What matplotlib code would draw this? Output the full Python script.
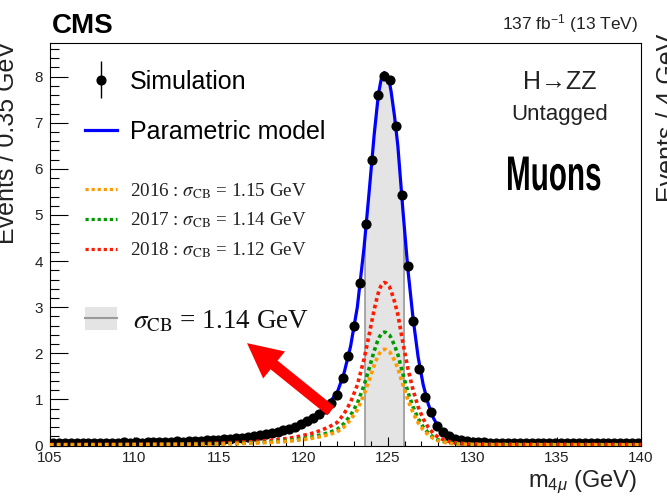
import numpy as np
import matplotlib
matplotlib.use("Agg")
import matplotlib.pyplot as plt
from matplotlib.patches import Patch, Rectangle, ArrowStyle
from matplotlib.lines import Line2D
from matplotlib.legend_handler import HandlerErrorbar, HandlerTuple
from matplotlib.patheffects import AbstractPathEffect
from matplotlib.transforms import Affine2D
from matplotlib.ticker import MultipleLocator
from matplotlib.container import ErrorbarContainer

plt.rcParams["font.family"] = ["Liberation Sans", "DejaVu Sans"]
plt.rcParams["mathtext.fontset"] = "custom"
plt.rcParams["mathtext.rm"] = "Liberation Sans"
plt.rcParams["mathtext.it"] = "Liberation Sans:italic"

# binning of the simulated four-muon mass
m_lo, m_hi, n_bins = 105.0, 140.0, 100

# simulated events per 0.35 GeV bin
sim_events = [
    0.05, 0.05, 0.06, 0.05, 0.05, 0.06, 0.05, 0.06, 0.06, 0.05,
    0.06, 0.06, 0.07, 0.06, 0.07, 0.06, 0.07, 0.07, 0.08, 0.07,
    0.08, 0.09, 0.08, 0.09, 0.10, 0.10, 0.11, 0.12, 0.12, 0.14,
    0.14, 0.16, 0.17, 0.19, 0.20, 0.22, 0.25, 0.27, 0.29, 0.33,
    0.36, 0.41, 0.46, 0.53, 0.60, 0.68, 0.79, 0.92, 1.10, 1.46,
    1.95, 2.60, 3.53, 4.80, 6.20, 7.60, 8.02, 7.93, 6.94, 5.44,
    3.90, 2.70, 1.66, 1.06, 0.73, 0.42, 0.29, 0.21, 0.14, 0.11,
    0.09, 0.08, 0.07, 0.07, 0.06, 0.06, 0.06, 0.05, 0.06, 0.05,
    0.05, 0.06, 0.05, 0.05, 0.05, 0.06, 0.05, 0.05, 0.05, 0.05,
    0.06, 0.05, 0.05, 0.05, 0.05, 0.05, 0.05, 0.05, 0.05, 0.05,
]
sim_err = 0.03

# parametric (double crystal-ball) model sampled along the mass axis
model_mass = [
    105, 107, 109, 111, 113, 115, 116, 117, 118, 119, 119.5, 120, 120.5,
    121, 121.5, 122, 122.4, 122.8, 123.2, 123.6, 123.9, 124.2, 124.4, 124.5,
    124.6, 124.7, 124.8, 124.9, 125.0, 125.1, 125.2, 125.4, 125.6, 125.9,
    126.2, 126.5, 126.8, 127.1, 127.4, 127.7, 128.0, 128.4, 128.8, 129.3,
    130, 131, 133, 136, 140,
]
model_total = [
    0.05, 0.055, 0.06, 0.07, 0.085, 0.12, 0.15, 0.19, 0.25, 0.34, 0.41, 0.50, 0.60,
    0.74, 0.91, 1.14, 1.55, 2.15, 3.00, 4.30, 5.50, 6.75, 7.45, 7.72,
    7.92, 8.04, 8.09, 8.06, 7.96, 7.88, 7.68, 7.15, 6.50, 5.10,
    3.80, 2.76, 1.92, 1.32, 0.90, 0.60, 0.40, 0.25, 0.16, 0.11,
    0.08, 0.065, 0.06, 0.055, 0.05,
]
model_2016 = [
    0.013, 0.014, 0.015, 0.018, 0.022, 0.031, 0.039, 0.049, 0.065, 0.088, 0.106, 0.129, 0.155,
    0.191, 0.235, 0.294, 0.400, 0.555, 0.774, 1.109, 1.419, 1.742, 1.922, 1.992,
    2.043, 2.074, 2.087, 2.079, 2.054, 2.033, 1.981, 1.845, 1.677, 1.316,
    0.980, 0.712, 0.495, 0.341, 0.232, 0.155, 0.103, 0.065, 0.041, 0.028,
    0.021, 0.017, 0.015, 0.014, 0.013,
]
model_2017 = [
    0.015, 0.017, 0.018, 0.021, 0.026, 0.036, 0.046, 0.058, 0.076, 0.103, 0.125, 0.152, 0.182,
    0.225, 0.277, 0.347, 0.471, 0.654, 0.912, 1.307, 1.672, 2.052, 2.265, 2.347,
    2.408, 2.444, 2.459, 2.450, 2.420, 2.396, 2.335, 2.174, 1.976, 1.550,
    1.155, 0.839, 0.584, 0.401, 0.274, 0.182, 0.122, 0.076, 0.049, 0.033,
    0.024, 0.020, 0.018, 0.017, 0.015,
]
model_2018 = [
    0.022, 0.024, 0.026, 0.031, 0.037, 0.052, 0.066, 0.083, 0.109, 0.149, 0.179, 0.219, 0.262,
    0.323, 0.398, 0.498, 0.677, 0.940, 1.311, 1.879, 2.404, 2.950, 3.256, 3.374,
    3.461, 3.513, 3.535, 3.522, 3.479, 3.444, 3.356, 3.125, 2.841, 2.229,
    1.661, 1.206, 0.839, 0.577, 0.393, 0.262, 0.175, 0.109, 0.070, 0.048,
    0.035, 0.028, 0.026, 0.024, 0.022,
]
years = ["2016", "2017", "2018"]
sigma_cb_year = [1.15, 1.14, 1.12]
year_colors = ["#ff9900", "#009900", "#ff1a00"]
sigma_cb = 1.14
peak_mass = 124.8


class Squeeze(AbstractPathEffect):
    """Draw text narrower than the font by scaling glyph paths horizontally."""

    def __init__(self, sx):
        super().__init__()
        self.sx = sx

    def draw_path(self, renderer, gc, tpath, affine, rgbFace=None):
        renderer.draw_path(gc, tpath, Affine2D().scale(self.sx, 1.0) + affine, rgbFace)


W, H = 667, 504
fig = plt.figure(figsize=(W / 100, H / 100), dpi=100)
ax = fig.add_axes([50 / W, 58.5 / H, 591 / W, 402 / H])

edges = np.linspace(m_lo, m_hi, n_bins + 1)
centers = 0.5 * (edges[1:] + edges[:-1])
bin_width = edges[1] - edges[0]

# +-1 sigma band under the total model
band = ax.fill_between(model_mass, model_total, color="#e4e4e4", lw=0, zorder=1)
band.set_clip_path(Rectangle((peak_mass - sigma_cb, 0), 2 * sigma_cb, 20,
                             transform=ax.transData))
band_edges = [peak_mass - sigma_cb, peak_mass + sigma_cb]
ax.vlines(band_edges, 0, np.interp(band_edges, model_mass, model_total),
          color="#9a9a9a", lw=1.2, zorder=1.5)

model_line, = ax.plot(model_mass, model_total, color="#0000ff", lw=2.3, zorder=3)
sim = ax.errorbar(centers, sim_events, yerr=sim_err, fmt="o", color="black",
                  ms=6.3, elinewidth=1.0, capsize=0, zorder=4)

year_lines = []
for yr_vals, c in zip([model_2018, model_2017, model_2016], year_colors[::-1]):
    ax.plot(model_mass, yr_vals, color=c, lw=2.6, dashes=(1.0, 0.9), zorder=5)
for c in year_colors:
    year_lines.append(Line2D([], [], color=c, lw=2.3, dashes=(1.0, 0.9)))

ax.set_xlim(m_lo, m_hi)
ax.set_ylim(0, 8.72)
ax.xaxis.set_major_locator(MultipleLocator(5))
ax.xaxis.set_minor_locator(MultipleLocator(1))
ax.yaxis.set_major_locator(MultipleLocator(1))
ax.yaxis.set_minor_locator(MultipleLocator(0.2))
ax.tick_params(which="both", direction="in", top=False, right=False, width=0.8,
               labelsize=11, labelcolor="#222222")
ax.tick_params(axis="y", which="major", length=13, pad=5)
ax.tick_params(axis="y", which="minor", length=6.5)
ax.tick_params(axis="x", which="major", length=6.5, pad=4)
ax.tick_params(axis="x", which="minor", length=3.3)
for s in ax.spines.values():
    s.set_linewidth(0.8)

ax.set_xlabel(r"m$_{4\mu}$ (GeV)", fontsize=17, ha="right", color="#222222")
ax.xaxis.set_label_coords(0.993, -0.058)

# legends
leg1 = ax.legend([sim, model_line], ["Simulation", "Parametric model"],
                 loc="upper left", bbox_to_anchor=(0.059, 0.935), frameon=False,
                 fontsize=18, handlelength=1.28, handletextpad=0.52,
                 labelspacing=1.05, borderpad=0, borderaxespad=0,
                 handler_map={ErrorbarContainer: HandlerErrorbar(xerr_size=0.74)})
ax.add_artist(leg1)

year_labels = [f"{yr} : $\\sigma_{{\\mathrm{{CB}}}}$ = {s:.2f} GeV"
               for yr, s in zip(years, sigma_cb_year)]
leg2 = ax.legend(year_lines, year_labels, loc="upper left",
                 bbox_to_anchor=(0.059, 0.658), frameon=False,
                 prop={"family": "Liberation Serif", "size": 13.7, "math_fontfamily": "stix"},
                 labelcolor="#222222", handlelength=1.68, handletextpad=0.68,
                 labelspacing=0.52, borderpad=0, borderaxespad=0)
ax.add_artist(leg2)

band_handle = (Patch(facecolor="#e4e4e4", edgecolor="none"),
               Line2D([], [], color="#9a9a9a", lw=1.5))
leg3 = ax.legend([band_handle], [f"$\\sigma_{{\\mathrm{{CB}}}}$ = {sigma_cb:.2f} GeV"],
                 loc="center left", bbox_to_anchor=(0.059, 0.31), frameon=False,
                 prop={"family": "Liberation Serif", "size": 19.5, "math_fontfamily": "stix"},
                 labelcolor="#111111", handlelength=1.18, handleheight=0.93,
                 handletextpad=0.6, borderpad=0, borderaxespad=0,
                 handler_map={tuple: HandlerTuple(ndivide=1, pad=0)})

ax.annotate("", xy=(116.67, 2.22), xytext=(121.64, 0.75),
            arrowprops=dict(arrowstyle=ArrowStyle.Simple(head_length=2.5, head_width=2.5,
                                                         tail_width=0.8),
                            mutation_scale=10, color="red", lw=0, shrinkA=0, shrinkB=0),
            zorder=6)

# header and category labels
fig.text(52 / W, 1 - 33.3 / H, "CMS", fontsize=20, fontweight="bold", va="baseline")
fig.text(638 / W, 1 - 29.3 / H, r"137 fb$^{-1}$ (13 TeV)", fontsize=12.5,
         ha="right", va="baseline", color="#222222")
fig.text(560 / W, 1 - 89.3 / H, "H\u2192ZZ", fontsize=18, ha="center", va="baseline",
         color="#222222")
fig.text(560 / W, 1 - 120 / H, "Untagged", fontsize=16, ha="center", va="baseline",
         color="#222222")
fig.text(506 / W, 1 - 190 / H, "Muons", fontsize=35, fontweight="bold", va="baseline",
         path_effects=[Squeeze(0.61)])

fig.text(19 / W, 1 - 143 / H, f"Events / {bin_width:.2f} GeV", fontsize=18,
         rotation=90, ha="right", va="center", color="#222222")
fig.text(656 / W, 1 - 117.5 / H, "Events / 4 GeV", fontsize=18,
         rotation=90, ha="left", va="center", color="#222222")

fig.savefig("out.png", dpi=100)
